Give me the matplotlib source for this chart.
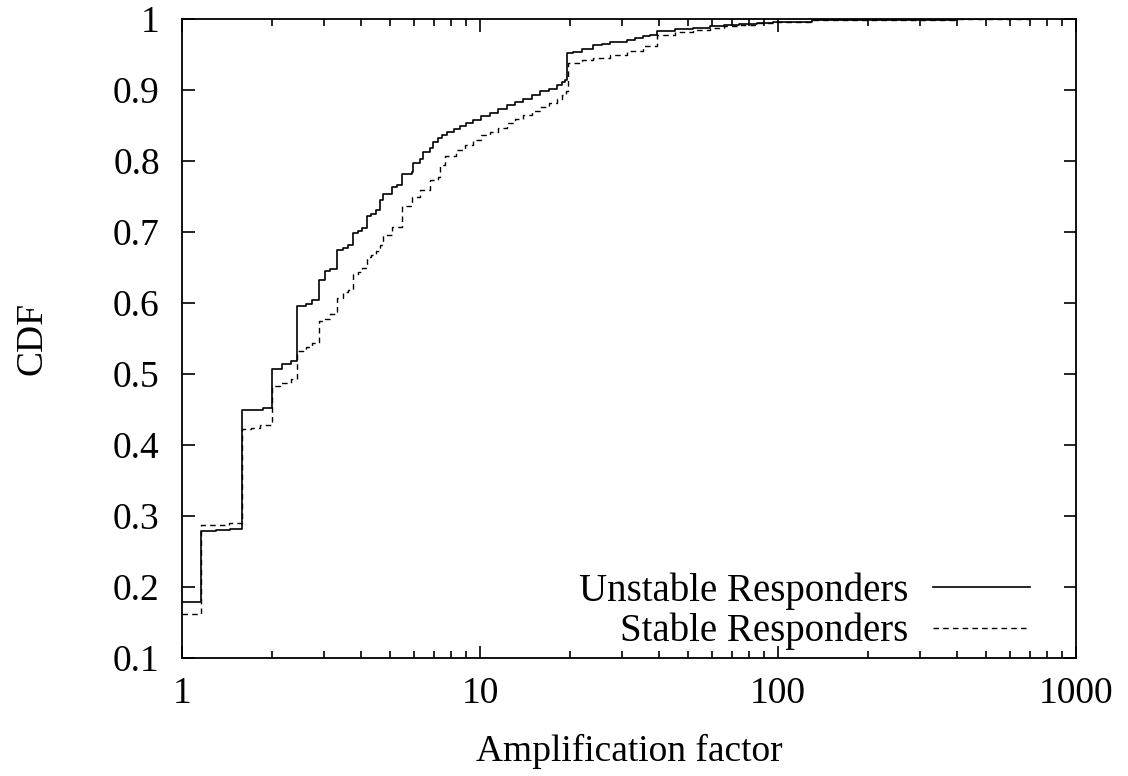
import numpy as np
import matplotlib.pyplot as plt
from matplotlib.ticker import FuncFormatter, FixedLocator

plt.rcParams['font.family'] = ['Liberation Serif', 'DejaVu Serif']

# step points of the two CDFs (value holds until the next x)
unstable_x = [1, 1.155, 1.30, 1.45, 1.585, 1.71, 1.87, 2.01, 2.16, 2.32, 2.44, 2.60,
              2.74, 2.88, 3.03, 3.15, 3.32, 3.48, 3.61, 3.74, 3.89, 4.01, 4.17, 4.31,
              4.48, 4.62, 4.74, 5.05, 5.25, 5.46, 5.90, 5.97, 6.29, 6.45, 6.80, 6.97,
              7.25, 7.44, 7.74, 8.2, 8.59, 9.0, 9.49, 10.1, 10.8, 11.5, 12.3, 13.1,
              13.9, 14.9, 15.9, 17.0, 18.1, 18.8, 19.3, 19.6, 20.5, 22.0, 24.0, 25.6,
              27.3, 29.2, 31.1, 33.2, 35.3, 37.2, 39.2, 45, 52, 59, 66, 74, 85, 96,
              130, 200, 400, 700]
unstable_y = [0.179, 0.279, 0.280, 0.282, 0.449, 0.450, 0.452, 0.507, 0.514, 0.519,
              0.596, 0.599, 0.604, 0.633, 0.645, 0.648, 0.674, 0.678, 0.682, 0.698,
              0.702, 0.705, 0.723, 0.726, 0.731, 0.745, 0.754, 0.763, 0.766, 0.782,
              0.785, 0.797, 0.803, 0.813, 0.818, 0.827, 0.832, 0.837, 0.841, 0.845,
              0.849, 0.853, 0.858, 0.863, 0.868, 0.873, 0.879, 0.883, 0.888, 0.893,
              0.898, 0.902, 0.907, 0.911, 0.914, 0.952, 0.954, 0.958, 0.963, 0.965,
              0.967, 0.968, 0.970, 0.973, 0.976, 0.977, 0.983, 0.986, 0.988, 0.990,
              0.992, 0.993, 0.995, 0.996, 0.998, 0.999, 1.0, 1.0]

stable_x = [1, 1.155, 1.30, 1.44, 1.585, 1.71, 1.83, 2.01, 2.13, 2.32, 2.44, 2.60,
            2.74, 2.88, 3.03, 3.15, 3.32, 3.48, 3.61, 3.74, 3.89, 4.01, 4.17, 4.31,
            4.48, 4.62, 4.74, 5.05, 5.46, 5.90, 6.29, 6.80, 7.25, 7.34, 7.63, 8.3,
            8.9, 9.5, 10.1, 10.8, 11.5, 12.3, 13.1, 13.9, 14.9, 15.9, 17.0, 18.1,
            18.8, 19.5, 19.7, 22.0, 24.0, 27.3, 31.1, 35.3, 39.4, 45, 52, 59, 66,
            74, 85, 96, 130, 200, 400, 700]
stable_y = [0.1615, 0.287, 0.288, 0.290, 0.422, 0.424, 0.428, 0.483, 0.487, 0.4925,
            0.532, 0.538, 0.544, 0.575, 0.578, 0.585, 0.607, 0.615, 0.618, 0.641,
            0.644, 0.650, 0.665, 0.668, 0.673, 0.682, 0.696, 0.707, 0.736, 0.750,
            0.759, 0.773, 0.778, 0.794, 0.807, 0.816, 0.823, 0.830, 0.836, 0.841,
            0.847, 0.853, 0.859, 0.865, 0.870, 0.876, 0.882, 0.888, 0.893, 0.898,
            0.938, 0.942, 0.945, 0.950, 0.955, 0.962, 0.978, 0.981, 0.985, 0.988,
            0.990, 0.992, 0.994, 0.996, 0.998, 0.999, 1.0, 1.0]

y_ticks = [0.1, 0.2, 0.3, 0.4, 0.5, 0.6, 0.7, 0.8, 0.9, 1]
x_ticks = [1, 10, 100, 1000]

fig = plt.figure(figsize=(11.28, 7.76), dpi=100)
ax = fig.add_axes([182/1128, 1 - 658/776, 894/1128, 639/776])

ax.plot(unstable_x, unstable_y, drawstyle='steps-post', color='black', linewidth=1.2,
        label='Unstable Responders')
ax.plot(stable_x, stable_y, drawstyle='steps-post', color='black', linewidth=1.0,
        dashes=(4, 3), label='Stable Responders')

ax.set_xscale('log')
ax.set_xlim(1, 1000)
ax.set_ylim(0.1, 1)
ax.xaxis.set_major_locator(FixedLocator(x_ticks))
ax.xaxis.set_major_formatter(FuncFormatter(lambda v, p: '%g' % v))
ax.yaxis.set_major_locator(FixedLocator(y_ticks))
ax.yaxis.set_major_formatter(FuncFormatter(lambda v, p: '%g' % v))

ax.tick_params(which='both', direction='in', top=True, right=True, labelsize=27,
               width=1.2, colors='black')
ax.tick_params(axis='y', which='major', length=9, pad=16)
ax.tick_params(axis='x', which='major', length=9, pad=13)
ax.tick_params(which='minor', length=5)
for s in ax.spines.values():
    s.set_linewidth(1.3)

ax.set_xlabel('Amplification factor', fontsize=27)
ax.set_ylabel('CDF', fontsize=27)
ax.xaxis.set_label_coords(0.5, -0.118)
ax.yaxis.set_label_coords(-0.148, 0.5)

ax.legend(loc='lower right', bbox_to_anchor=(0.9485, 0.012), frameon=False,
          markerfirst=False, fontsize=28, handlelength=2.5, handletextpad=0.62,
          borderpad=0, borderaxespad=0, labelspacing=0.08)

fig.savefig('out.png', dpi=100)
